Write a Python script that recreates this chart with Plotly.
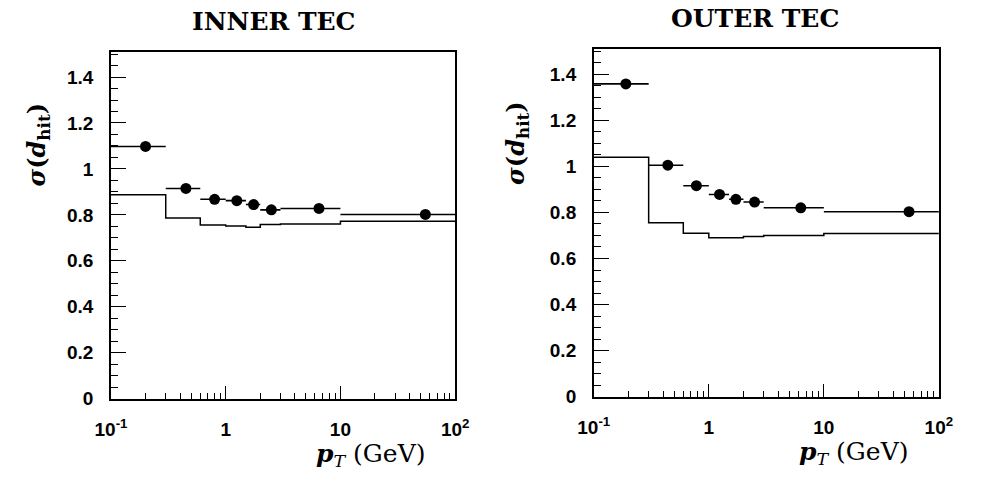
import plotly.graph_objects as go

# Bin edges in pT (GeV)
bin_lo = [0.1, 0.3, 0.6, 1.0, 1.5, 2.0, 3.0, 10.0]
bin_hi = [0.3, 0.6, 1.0, 1.5, 2.0, 3.0, 10.0, 100.0]
hist_edges = [0.1, 0.3, 0.6, 1.0, 1.5, 2.0, 3.0, 10.0, 100.0]

# Inner TEC
inner_pt = [0.2, 0.45, 0.8, 1.25, 1.75, 2.5, 6.5, 55.0]
inner_sigma = [1.098, 0.915, 0.868, 0.862, 0.845, 0.822, 0.828, 0.802]
inner_hist = [0.888, 0.786, 0.756, 0.752, 0.746, 0.758, 0.760, 0.772]

# Outer TEC
outer_pt = [0.19, 0.44, 0.78, 1.24, 1.72, 2.5, 6.3, 55.0]
outer_sigma = [1.358, 1.005, 0.916, 0.878, 0.857, 0.845, 0.820, 0.803]
outer_hist = [1.040, 0.755, 0.710, 0.690, 0.690, 0.695, 0.700, 0.709]

x_major = [0.1, 1, 10, 100]
x_major_text = ["10<sup>-1</sup>", "1", "10", "10<sup>2</sup>"]
x_minor = [m * d for d in (0.1, 1, 10) for m in range(2, 10)]
y_major = [0, 0.2, 0.4, 0.6, 0.8, 1.0, 1.2, 1.4]
y_major_text = ["0", "0.2", "0.4", "0.6", "0.8", "1", "1.2", "1.4"]
y_minor = [round(0.05 * i, 2) for i in range(0, 31)]

W, H = 981, 481
X_RANGE = [-1, 2]
Y_RANGE = [0, 1.51]

fig = go.Figure()

# (label axes, tick-overlay axes, data)
panels = [
    ("x", "y", "x3", "y3", inner_pt, inner_sigma, inner_hist),
    ("x2", "y2", "x4", "y4", outer_pt, outer_sigma, outer_hist),
]
for xa, ya, xo, yo, pt, sig, hist in panels:
    fig.add_trace(go.Scatter(
        x=hist_edges, y=hist + [hist[-1]], mode="lines",
        line=dict(color="black", width=1.5, shape="hv"),
        xaxis=xo, yaxis=yo, showlegend=False, hoverinfo="skip"))
    fig.add_trace(go.Scatter(
        x=pt, y=sig, mode="markers",
        marker=dict(color="black", size=11),
        error_x=dict(type="data", symmetric=False,
                     array=[h - p for h, p in zip(bin_hi, pt)],
                     arrayminus=[p - l for l, p in zip(bin_lo, pt)],
                     color="black", thickness=1.6, width=0),
        xaxis=xa, yaxis=ya, showlegend=False))

tickfont = dict(family="Liberation Sans", size=19, color="black", weight="bold")
CLEAR = "rgba(0,0,0,0)"


def x_label_axis(domain, anchor):
    # frame line + tick labels (spacer ticks are transparent)
    return dict(domain=domain, anchor=anchor, type="log", range=X_RANGE,
                showgrid=False, zeroline=False, showline=True, mirror=True,
                linecolor="black", linewidth=1.5,
                tickmode="array", tickvals=x_major, ticktext=x_major_text,
                ticks="outside", ticklen=13, tickcolor=CLEAR, tickfont=tickfont)


def y_label_axis(domain, anchor):
    return dict(domain=domain, anchor=anchor, range=Y_RANGE,
                showgrid=False, zeroline=False, showline=True, mirror=True,
                linecolor="black", linewidth=1.5,
                tickmode="array", tickvals=y_major, ticktext=y_major_text,
                ticks="outside", ticklen=12, tickcolor=CLEAR, tickfont=tickfont)


def x_tick_axis(over, anchor):
    # visible inside ticks, no labels
    return dict(overlaying=over, anchor=anchor, type="log", range=X_RANGE,
                showgrid=False, zeroline=False, showline=False, showticklabels=False,
                tickmode="array", tickvals=x_major,
                ticks="inside", ticklen=13, tickwidth=1.3, tickcolor="black",
                minor=dict(tickmode="array", tickvals=x_minor, ticks="inside",
                           ticklen=6, tickwidth=1.2, tickcolor="black", showgrid=False))


def y_tick_axis(over, anchor):
    return dict(overlaying=over, anchor=anchor, range=Y_RANGE,
                showgrid=False, zeroline=False, showline=False, showticklabels=False,
                tickmode="array", tickvals=y_major,
                ticks="inside", ticklen=15, tickwidth=1.3, tickcolor="black",
                minor=dict(tickmode="array", tickvals=y_minor, ticks="inside",
                           ticklen=7, tickwidth=1.2, tickcolor="black", showgrid=False))


fig.update_layout(
    width=W, height=H, autosize=False,
    margin=dict(l=0, r=0, t=0, b=0),
    paper_bgcolor="white", plot_bgcolor="white",
    xaxis=x_label_axis([98 / W, 453 / W], "y"),
    yaxis=y_label_axis([1 - 408 / H, 1 - 53 / H], "x"),
    xaxis2=x_label_axis([596 / W, 952 / W], "y2"),
    yaxis2=y_label_axis([1 - 406 / H, 1 - 50 / H], "x2"),
    xaxis3=x_tick_axis("x", "y3"),
    yaxis3=y_tick_axis("y", "x3"),
    xaxis4=x_tick_axis("x2", "y4"),
    yaxis4=y_tick_axis("y2", "x4"),
)

title_font = dict(family="DejaVu Serif", size=25, color="black")
xlab_font = dict(family="DejaVu Serif", size=25, color="black")
ylab_font = dict(family="DejaVu Serif", size=24, color="black")
ylab_text = "<b><i>σ</i>(<i>d</i><sub>hit</sub>)</b>"
xlab_text = "<b><i>p</i></b><sub><i>T</i></sub> (GeV)"

annos = [
    dict(x=266 / W, y=1 - 22 / H, text="<b>INNER TEC</b>", font=title_font),
    dict(x=762 / W, y=1 - 19 / H, text="<b>OUTER TEC</b>", font=title_font),
    dict(x=366 / W, y=0, yanchor="bottom", yshift=-3, text=xlab_text, font=xlab_font),
    dict(x=864 / W, y=0, yanchor="bottom", yshift=-1, text=xlab_text, font=xlab_font),
    dict(x=4 / W, xanchor="left", y=1 - 148 / H, text=ylab_text, font=ylab_font,
         textangle=-90),
    dict(x=516 / W, y=1 - 146 / H, text=ylab_text, font=ylab_font, textangle=-90),
]
for a in annos:
    a.setdefault("xanchor", "center")
    a.setdefault("yanchor", "middle")
    a.update(xref="paper", yref="paper", showarrow=False)
fig.update_layout(annotations=annos)

fig.write_html("out.html")
